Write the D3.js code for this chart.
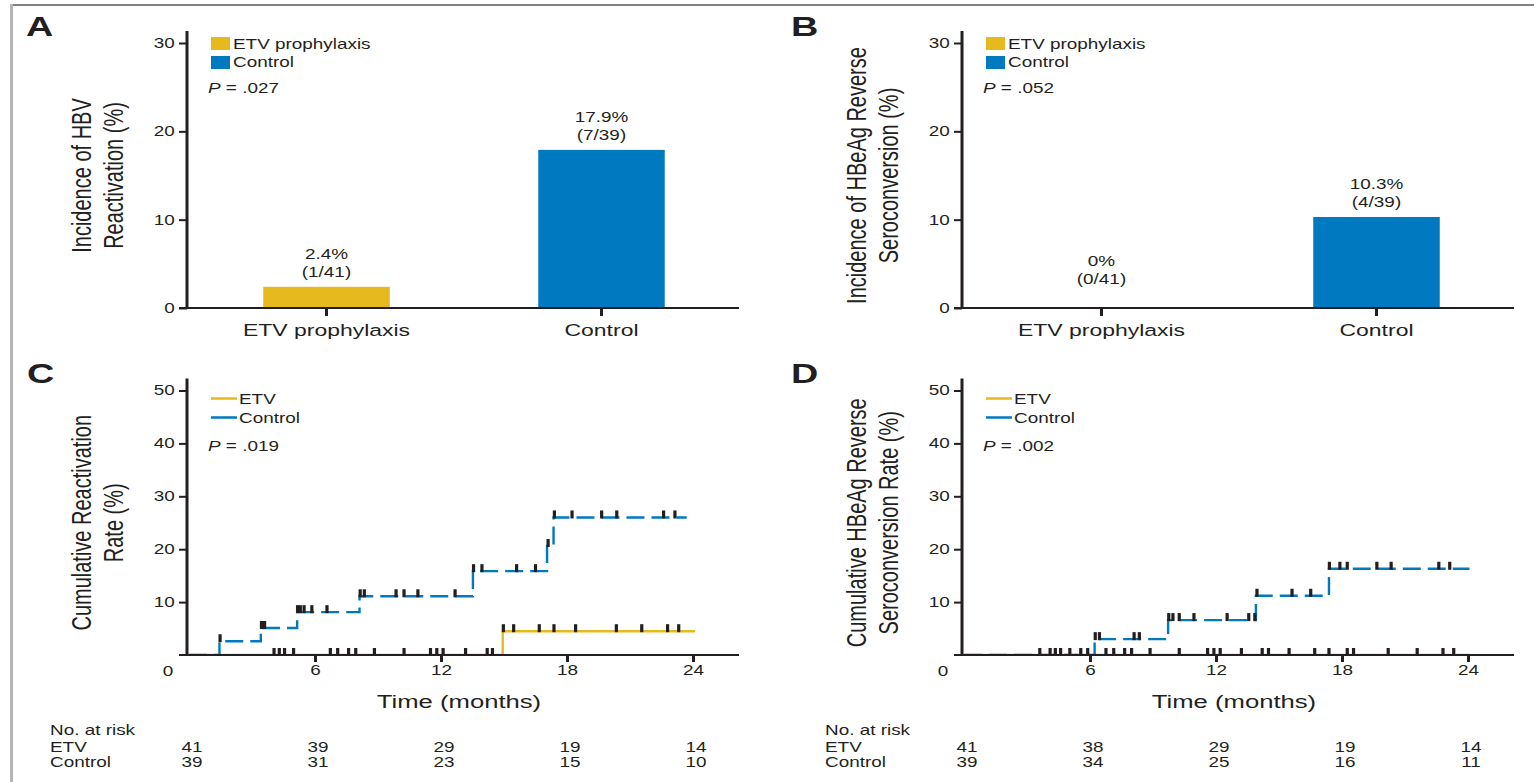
<!DOCTYPE html>
<html>
<head>
<meta charset="utf-8">
<script src="https://cdn.jsdelivr.net/npm/d3@7"></script>
<style>
    html, body { margin: 0; padding: 0; background: #fff; }
    svg text { font-family: "Liberation Sans", Arial, Helvetica, sans-serif; fill: #231f20; }
</style>
</head>
<body>
<svg id="fig" width="1534" height="782"></svg>
<script>
// ---- data ----
const barGroups = ["ETV prophylaxis", "Control"];
const reactivationPct = [2.4, 17.9];
const reactivationN = ["(1/41)", "(7/39)"];
const reverseSeroPct = [0, 10.3];
const reverseSeroN = ["(0/41)", "(4/39)"];
const barTicks = [0, 10, 20, 30];

const kmYTicks = [10, 20, 30, 40, 50];
const kmXTicks = [6, 12, 18, 24];
const riskTimes = [0, 6, 12, 18, 24];

// C: cumulative reactivation rate, step times (months) and rates (%)
const cEtvTime = [0, 14.94, 24.1];
const cEtvRate = [0, 4.5, 4.5];
const cCtrlTime = [0, 1.45, 3.42, 5.15, 8.12, 13.52, 17.05, 17.36, 23.7];
const cCtrlRate = [0, 2.6, 5.1, 8.1, 11.1, 15.85, 20.6, 26.0, 26.0];
const cEtvCensor = [4.05, 4.3, 4.55, 4.98, 6.73, 7.08, 7.6, 7.94, 8.83, 10.24, 11.5, 11.8, 12.1,
    13.17, 14.2, 14.45, 14.97, 15.46, 16.68, 17.38, 18.41, 20.35, 21.56, 22.79, 23.32];
const cCtrlCensor = [1.48, 3.45, 3.6, 5.17, 5.3, 5.48, 5.85, 6.57, 8.15, 8.35, 9.86, 10.24, 10.9,
    12.67, 13.55, 13.95, 15.6, 16.5, 17.1, 17.4, 18.24, 19.65, 20.37, 22.6, 23.14];
const cRiskEtv = [41, 39, 29, 19, 14];
const cRiskCtrl = [39, 31, 23, 15, 10];

// D: cumulative HBeAg reverse seroconversion rate
const dEtvTime = [0, 24.1];
const dEtvRate = [0, 0];
const dCtrlTime = [0, 6.22, 9.72, 13.9, 17.38, 24.07];
const dCtrlRate = [0, 3.0, 6.6, 11.2, 16.3, 16.3];
const dEtvCensor = [3.61, 4.1, 4.35, 4.6, 5.04, 5.56, 5.89, 6.76, 7.13, 7.65, 7.98, 8.86, 10.25,
    11.6, 11.9, 12.2, 13.21, 14.2, 14.5, 15.48, 16.7, 17.38, 18.25, 18.55, 20.2, 21.58, 22.81, 23.32];
const dCtrlCensor = [6.25, 6.45, 8.1, 8.35, 9.75, 9.95, 10.25, 10.95, 12.53, 13.56, 13.85, 13.95,
    15.62, 16.51, 17.4, 17.9, 18.25, 19.66, 20.34, 22.61, 23.13];
const dRiskEtv = [41, 38, 29, 19, 14];
const dRiskCtrl = [39, 34, 25, 16, 11];

// ---- styles ----
const INK = "#231f20";
const GOLD = "#e6b91e";
const BLUE = "#0079c1";
const SX = 1.35; // the source figure is stretched sideways, text included

const svg = d3.select("#fig");

// frame lines
svg.append("line").attr("x1", 10).attr("x2", 1534).attr("y1", 5).attr("y2", 5)
    .attr("stroke", "#808080").attr("stroke-width", 2);
svg.append("line").attr("x1", 11.5).attr("x2", 11.5).attr("y1", 4).attr("y2", 782)
    .attr("stroke", "#b4b4b4").attr("stroke-width", 3);

function label(g, x, y, str, size, anchor, weight) {
    return g.append("text")
        .attr("transform", `translate(${x},${y}) scale(${SX},1)`)
        .attr("text-anchor", anchor || "start")
        .style("font-size", size + "px")
        .style("font-weight", weight || "normal")
        .text(str);
}

function pLabel(g, x, y, p) {
    const t = label(g, x, y, "", 14);
    t.append("tspan").style("font-style", "italic").text("P");
    t.append("tspan").text(" = " + p);
}

function yTitle(g, cx, cy, lines) {
    lines.forEach((s, i) => {
        g.append("text")
            .attr("transform", `translate(${cx + i * 32},${cy}) scale(1.4,1) rotate(-90)`)
            .attr("text-anchor", "middle")
            .style("font-size", "20px")
            .text(s);
    });
}

function styleAxis(ax, vertical) {
    ax.select(".domain").remove();
    ax.selectAll(".tick line").attr("stroke", INK).attr("stroke-width", vertical ? 3 : 2);
    ax.selectAll(".tick text")
        .attr("transform", `scale(${SX},1)`)
        .style("font-size", "14px")
        .style("font-family", '"Liberation Sans", Arial, sans-serif')
        .attr("fill", INK);
}

// ---- bar panels (A, B) ----
function barPanel(ox, pct, counts, pVal, title) {
    const g = svg.append("g").attr("transform", `translate(${ox},0)`);
    const y = d3.scaleLinear().domain([0, 30]).range([308, 43]);
    const x = d3.scaleBand().domain(barGroups).range([189, 739]);
    const axisX = 187;
    const bw = x.bandwidth() * 0.46;

    g.selectAll("rect.bar")
        .data(barGroups)
        .join("rect")
        .attr("class", "bar")
        .attr("x", d => x(d) + x.bandwidth() / 2 - bw / 2)
        .attr("width", bw)
        .attr("y", (d, i) => y(pct[i]))
        .attr("height", (d, i) => y(0) - y(pct[i]))
        .attr("fill", (d, i) => i ? BLUE : GOLD);

    // value labels above each bar
    barGroups.forEach((d, i) => {
        const top = Math.min(y(pct[i]), y(0) - 14);
        const cx = x(d) + x.bandwidth() / 2;
        label(g, cx, top - 28, pct[i] + "%", 14, "middle");
        label(g, cx, top - 10, counts[i], 14, "middle");
    });

    // axes
    const yAx = g.append("g").attr("transform", `translate(${axisX},0)`)
        .call(d3.axisLeft(y).tickValues(barTicks).tickSize(8).tickPadding(1));
    styleAxis(yAx, false);
    const xAx = g.append("g").attr("transform", `translate(0,${y(0)})`)
        .call(d3.axisBottom(x).tickSize(8).tickPadding(8));
    styleAxis(xAx, true);
    xAx.selectAll(".tick text").style("font-size", "17px");

    g.append("line").attr("x1", axisX).attr("x2", axisX).attr("y1", y(0) + 1).attr("y2", y(30) - 12)
        .attr("stroke", INK).attr("stroke-width", 3);
    g.append("line").attr("x1", axisX - 8).attr("x2", 739).attr("y1", y(0)).attr("y2", y(0))
        .attr("stroke", INK).attr("stroke-width", 2);

    // legend
    barGroups.forEach((d, i) => {
        g.append("rect").attr("x", 211).attr("y", 37 + i * 19).attr("width", 19).attr("height", 13)
            .attr("fill", i ? BLUE : GOLD);
        label(g, 233, 49 + i * 18, d, 14);
    });
    pLabel(g, 208, 93, pVal);
    yTitle(g, 91, (y(0) + y(30)) / 2, title);
}

// ---- Kaplan-Meier style panels (C, D) ----
function levelAt(times, rates, t) {
    let v = rates[0];
    times.forEach((tt, i) => { if (tt <= t) v = rates[i]; });
    return v;
}

function kmPanel(ox, id, etvT, etvR, ctrlT, ctrlR, etvC, ctrlC, pVal, title, riskE, riskC) {
    const g = svg.append("g").attr("transform", `translate(${ox},0)`);
    const x = d3.scaleLinear().domain([0, 24]).range([189, 693]);
    const y = d3.scaleLinear().domain([0, 50]).range([655, 390.5]);
    const axisX = 187;

    // curves lying on 0 sit under the axis, so keep them above it
    g.append("clipPath").attr("id", "clip" + id)
        .append("rect").attr("x", axisX).attr("y", 0).attr("width", 600).attr("height", y(0) - 1);

    const line = d3.line().x(d => x(d[0])).y(d => y(d[1])).curve(d3.curveStepAfter);
    const curves = g.append("g").attr("clip-path", `url(#clip${id})`);

    curves.append("path").datum(d3.zip(etvT, etvR)).attr("d", line)
        .attr("fill", "none").attr("stroke", GOLD).attr("stroke-width", 2.4);
    curves.append("path").datum(d3.zip(ctrlT, ctrlR)).attr("d", line)
        .attr("fill", "none").attr("stroke", BLUE).attr("stroke-width", 2.4)
        .attr("stroke-dasharray", "18,7");

    const yAx = g.append("g").attr("transform", `translate(${axisX},0)`)
        .call(d3.axisLeft(y).tickValues(kmYTicks).tickSize(8).tickPadding(1));
    styleAxis(yAx, false);
    const xAx = g.append("g").attr("transform", `translate(0,${y(0)})`)
        .call(d3.axisBottom(x).tickValues(kmXTicks).tickSize(7).tickPadding(3));
    styleAxis(xAx, true);
    label(g, axisX - 19, 676, "0", 14, "middle");

    g.append("line").attr("x1", axisX).attr("x2", axisX).attr("y1", y(0) + 1).attr("y2", y(50) - 12)
        .attr("stroke", INK).attr("stroke-width", 3);
    g.append("line").attr("x1", axisX - 8).attr("x2", 739).attr("y1", y(0)).attr("y2", y(0))
        .attr("stroke", INK).attr("stroke-width", 2);

    // censor marks
    const marks = etvC.map(t => [t, levelAt(etvT, etvR, t)])
        .concat(ctrlC.map(t => [t, levelAt(ctrlT, ctrlR, t)]));
    g.selectAll("rect.censor")
        .data(marks)
        .join("rect")
        .attr("class", "censor")
        .attr("x", d => x(d[0]) - 1.6)
        .attr("width", 3.2)
        .attr("y", d => y(d[1]) - 7)
        .attr("height", 8)
        .attr("fill", INK);

    // legend
    [["ETV", GOLD], ["Control", BLUE]].forEach((d, i) => {
        const ly = 398.5 + i * 19;
        g.append("line").attr("x1", 211).attr("x2", 237).attr("y1", ly).attr("y2", ly)
            .attr("stroke", d[1]).attr("stroke-width", 2.5);
        label(g, 239, ly + 5.5, d[0], 14);
    });
    pLabel(g, 208, 451, pVal);
    yTitle(g, 91, (y(0) + y(50)) / 2, title);

    label(g, (axisX - 8 + 739) / 2, 708, "Time (months)", 19, "middle");

    // number at risk table
    label(g, 50, 735, "No. at risk", 14);
    label(g, 50, 752, "ETV", 14);
    label(g, 50, 767, "Control", 14);
    riskTimes.forEach((t, i) => {
        label(g, x(t) + 3, 752, riskE[i], 14, "middle");
        label(g, x(t) + 3, 767, riskC[i], 14, "middle");
    });
}

barPanel(0, reactivationPct, reactivationN, ".027", ["Incidence of HBV", "Reactivation (%)"]);
barPanel(775, reverseSeroPct, reverseSeroN, ".052", ["Incidence of HBeAg Reverse", "Seroconversion (%)"]);
kmPanel(0, "C", cEtvTime, cEtvRate, cCtrlTime, cCtrlRate, cEtvCensor, cCtrlCensor, ".019",
    ["Cumulative Reactivation", "Rate (%)"], cRiskEtv, cRiskCtrl);
kmPanel(775, "D", dEtvTime, dEtvRate, dCtrlTime, dCtrlRate, dEtvCensor, dCtrlCensor, ".002",
    ["Cumulative HBeAg Reverse", "Seroconversion Rate (%)"], dRiskEtv, dRiskCtrl);

// panel letters
[["A", 26, 36], ["B", 791, 36], ["C", 27, 383], ["D", 791, 383]].forEach(d => {
    label(svg, d[1], d[2], d[0], 28, "start", "bold");
});
</script>
</body>
</html>
